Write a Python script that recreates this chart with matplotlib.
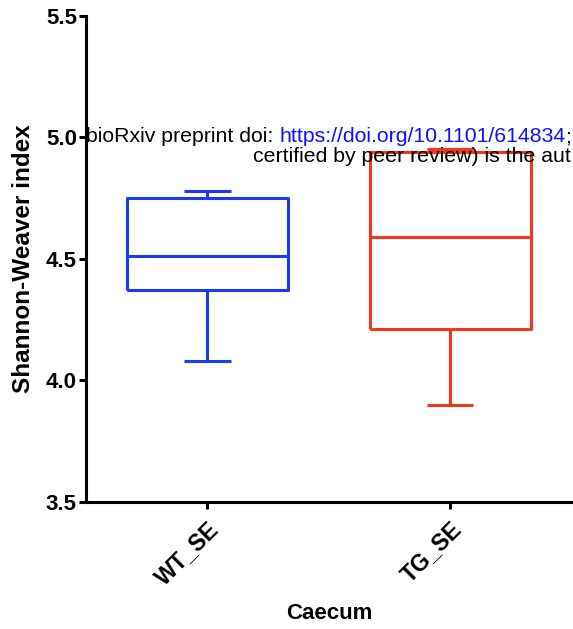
import numpy as np
import matplotlib.pyplot as plt

# ====== data ======
groups = ["WT_SE", "TG_SE"]
whisker_low = [4.08, 3.90]
q1 = [4.37, 4.21]
median = [4.51, 4.59]
q3 = [4.75, 4.94]
whisker_high = [4.78, 4.95]
colors = ["#1a3cf0", "#f4361a"]

plt.rcParams['font.family'] = ['Liberation Sans', 'DejaVu Sans']

fig = plt.figure(figsize=(5.73, 6.29), dpi=100)
ax = fig.add_axes([0.150, 0.202, 0.848, 0.773])

stats = []
for i, g in enumerate(groups):
    stats.append(dict(label=g, whislo=whisker_low[i], q1=q1[i], med=median[i],
                      q3=q3[i], whishi=whisker_high[i], fliers=[]))

for i, (s, c) in enumerate(zip(stats, colors)):
    lp = dict(color=c, linewidth=2.2, solid_capstyle='butt')
    ax.bxp([s], positions=[i], widths=0.66, capwidths=0.19, showfliers=False,
           boxprops=lp, medianprops=lp, whiskerprops=lp, capprops=lp,
           manage_ticks=False)

ax.set_xlim(-0.5, 1.5)
ax.set_ylim(3.5, 5.5)
ax.set_yticks([3.5, 4.0, 4.5, 5.0, 5.5])
ax.set_yticklabels(["3.5", "4.0", "4.5", "5.0", "5.5"], fontsize=16, fontweight='bold')
ax.set_xticks([0, 1])
ax.set_xticklabels(groups, fontsize=16.5, fontweight='bold', rotation=45,
                   ha='right', va='top', rotation_mode='anchor')

for side in ['top', 'right']:
    ax.spines[side].set_visible(False)
for side in ['left', 'bottom']:
    ax.spines[side].set_linewidth(2.2)
ax.tick_params(axis='both', width=2.2, length=5, pad=1.5)
ax.tick_params(axis='x', pad=6)

ax.set_ylabel("Shannon-Weaver index", fontsize=17.5, fontweight='bold', labelpad=8)
ax.set_xlabel("Caecum", fontsize=16, fontweight='bold', labelpad=10)

# bioRxiv watermark
fs = 15.3
t1 = fig.text(86 / 573, 1 - 137 / 629, "bioRxiv preprint doi: ", fontsize=fs,
              color='black', ha='left', va='center')
fig.canvas.draw()
bb = t1.get_window_extent()
t2 = fig.text(bb.x1 / fig.bbox.width, 1 - 137 / 629, "https://doi.org/10.1101/614834",
              fontsize=fs, color='#1010ff', ha='left', va='center')
bb2 = t2.get_window_extent(renderer=fig.canvas.get_renderer())
fig.text(bb2.x1 / fig.bbox.width, 1 - 137 / 629, ";", fontsize=fs,
         color='black', ha='left', va='center')
fig.text(571 / 573, 1 - 157 / 629, "certified by peer review) is the aut",
         fontsize=fs, color='black', ha='right', va='center')

fig.savefig("out.png", dpi=100)
